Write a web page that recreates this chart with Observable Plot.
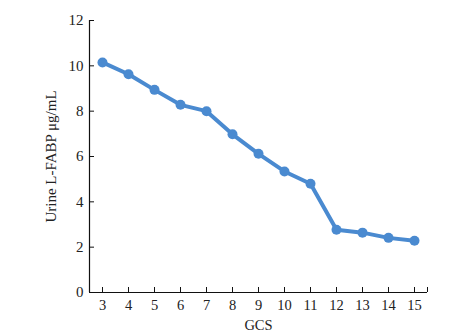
<!DOCTYPE html>
<html>
<head>
<meta charset="utf-8">
<script src="https://cdn.jsdelivr.net/npm/d3@7"></script>
<script src="https://cdn.jsdelivr.net/npm/@observablehq/plot@0.6"></script>
<style>
  html, body { margin: 0; padding: 0; background: #fff; }
  #chart svg { display: block; }
</style>
</head>
<body>
<div id="chart"></div>
<script>
const gcs = [3, 4, 5, 6, 7, 8, 9, 10, 11, 12, 13, 14, 15];
const lfabp = [10.15, 9.63, 8.94, 8.28, 8.0, 6.98, 6.12, 5.34, 4.8, 2.77, 2.64, 2.41, 2.28];
const yTicks = [0, 2, 4, 6, 8, 10, 12];
const xLabel = "GCS";
const yLabel = "Urine L-FABP μg/mL";

const data = gcs.map((g, i) => ({gcs: g, value: lfabp[i]}));
const color = "#4a8ad0";
const font = "'Liberation Serif', 'Times New Roman', serif";
const blank = () => "";

const chart = Plot.plot({
  width: 473,
  height: 336,
  marginLeft: 89,
  marginRight: 46,
  marginTop: 20,
  marginBottom: 44,
  style: {fontFamily: font, fontSize: "14.5px", color: "#222", background: "#fff"},
  x: {domain: [2.5, 15.5]},
  y: {domain: [0, 12]},
  marks: [
    // tick marks (inward)
    Plot.axisX([...gcs, 15.5], {tickSize: -5, tickFormat: blank, label: null, stroke: "#111"}),
    Plot.axisX(gcs, {tickSize: 0, tickPadding: 7, label: xLabel, labelAnchor: "center", labelArrow: "none", labelOffset: 37, fontSize: 14.5}),
    Plot.axisY(yTicks, {tickSize: -5, tickFormat: blank, label: null, stroke: "#111"}),
    Plot.axisY(yTicks, {tickSize: 0, tickPadding: 6, label: yLabel, labelAnchor: "center", labelArrow: "none", labelOffset: 44, fontSize: 15}),
    Plot.ruleY([0], {stroke: "#111", strokeWidth: 1.2}),
    Plot.ruleX([2.5], {stroke: "#111", strokeWidth: 1.2}),
    Plot.line(data, {x: "gcs", y: "value", stroke: color, strokeWidth: 4, strokeLinejoin: "round"}),
    Plot.dot(data, {x: "gcs", y: "value", fill: color, r: 5})
  ]
});
document.getElementById("chart").appendChild(chart);
</script>
</body>
</html>
